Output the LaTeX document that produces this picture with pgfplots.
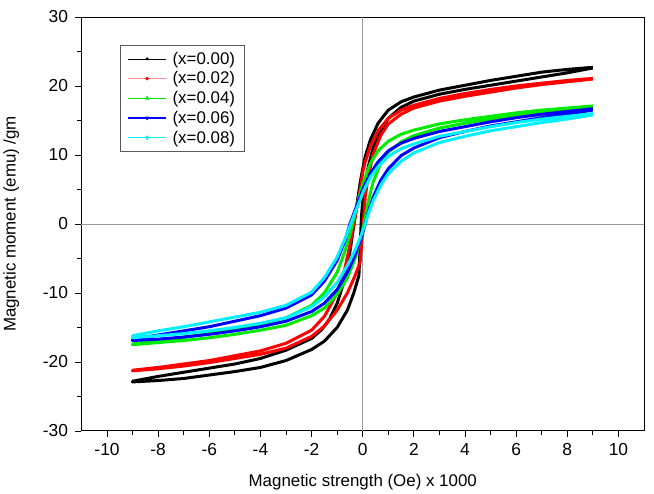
\documentclass[border=0pt]{standalone}
\usepackage{pgfplots}
\pgfplotsset{compat=1.18}
\usepackage{fontspec}
\setmainfont{Liberation Sans}
\newcommand{\lbl}{\fontsize{17}{20}\selectfont}
\newcommand{\tck}{\fontsize{17.5}{20}\selectfont}
\definecolor{cyn}{RGB}{0,240,255}
\definecolor{grn}{RGB}{0,235,0}
\definecolor{rd}{RGB}{255,0,0}
\definecolor{bl}{RGB}{0,0,255}
\begin{document}
\begin{tikzpicture}
\begin{axis}[
  scale only axis, width=564bp, height=415bp,
  xmin=-11, xmax=11, ymin=-30, ymax=30,
  xtick={-10,-8,...,10}, ytick={-30,-20,...,30},
  minor x tick num=1, minor y tick num=1,
  xtick pos=bottom, ytick pos=left, tick align=outside,
  major tick length=6bp, minor tick length=4bp,
  every tick/.style={black, line width=0.8pt},
  axis line style={line width=0.9pt},
  /pgf/number format/assume math mode=true,
  tick label style={font=\tck},
  label style={font=\lbl},
  xlabel={Magnetic strength (Oe) x 1000},
  ylabel={Magnetic moment (emu) /gm},
  xticklabel style={yshift=-3bp},
  yticklabel style={xshift=-4bp},
  xlabel style={yshift=-6bp},
  ylabel style={yshift=11bp},
  extra x ticks={0}, extra y ticks={0},
  extra tick style={grid=major, major tick length=0pt, xticklabels={}, yticklabels={},
    major grid style={gray!80, line width=0.6pt}},
  legend style={at={(rel axis cs:0.069,0.933)}, anchor=north west, font=\lbl,
    draw=gray!70!black, line width=0.7pt, row sep=2bp, inner xsep=7bp, inner ysep=5bp},
  legend cell align=left,
  legend image code/.code={\draw[mark repeat=2,mark phase=2,#1]
    plot coordinates {(0bp,0bp) (19bp,0bp) (38bp,0bp)};
    \path (0bp,0bp) (42bp,0bp);},
  every axis plot/.append style={line width=3bp, line join=round},
]
% x = 0.00
\addplot[black, forget plot] coordinates {
(9,22.7)(8,22.4)(7,22.0)(6,21.4)(5,20.8)(4,20.1)(3,19.4)(2,18.4)(1.5,17.7)(1,16.5)(0.6,14.6)(0.3,12.2)(0.1,9.8)(0,8.0)(-0.1,6.0)(-0.2,3.5)(-0.3,1.0)(-0.4,-1.5)(-0.5,-4)(-0.7,-8)(-1,-11.5)(-1.3,-13.8)(-1.6,-15.3)(-2,-16.6)(-3,-18.3)(-4,-19.5)(-5,-20.3)(-6,-20.9)(-7,-21.5)(-8,-22.1)(-9,-22.8)
(-9,-22.9)(-8,-22.7)(-7,-22.4)(-6,-21.9)(-5,-21.4)(-4,-20.8)(-3,-19.8)(-2,-18.2)(-1.5,-17.0)(-1,-15.0)(-0.6,-12.5)(-0.35,-10)(-0.15,-7.5)(-0.1,-3)(-0.05,1)(0,3.5)(0.1,6)(0.2,8)(0.4,11)(0.7,13.5)(1,15.3)(1.5,16.9)(2,17.8)(3,18.8)(4,19.5)(5,20.1)(6,20.7)(7,21.3)(8,21.9)(9,22.6)
};
% x = 0.02
\addplot[rd, forget plot] coordinates {
(9,21.1)(8,20.8)(7,20.4)(6,20.0)(5,19.5)(4,18.9)(3,18.2)(2,17.2)(1.5,16.5)(1,15.3)(0.6,13.5)(0.3,11.3)(0.1,9.0)(0,7.5)(-0.1,5)(-0.2,3)(-0.3,1)(-0.4,-1)(-0.5,-3)(-0.7,-6.5)(-1,-10)(-1.5,-13.4)(-2,-15.4)(-3,-17.3)(-4,-18.4)(-5,-19.1)(-6,-19.8)(-7,-20.3)(-8,-20.8)(-9,-21.2)
(-9,-21.3)(-8,-21.0)(-7,-20.6)(-6,-20.1)(-5,-19.5)(-4,-18.9)(-3,-18.0)(-2,-16.3)(-1.5,-14.8)(-1,-12.5)(-0.6,-10.0)(-0.3,-7.5)(-0.1,-5.5)(0,-1)(0.1,4)(0.2,6.5)(0.4,10)(0.7,12.8)(1,14.5)(1.5,15.9)(2,16.8)(3,17.8)(4,18.5)(5,19.1)(6,19.7)(7,20.2)(8,20.6)(9,21.0)
};
% x = 0.04
\addplot[grn, forget plot] coordinates {
(9,17.1)(8,16.8)(7,16.5)(6,16.1)(5,15.6)(4,15.1)(3,14.5)(2,13.6)(1.5,13.0)(1,12.0)(0.6,10.6)(0.3,8.8)(0.1,6.8)(0,5.8)(-0.1,4.5)(-0.2,3.0)(-0.3,1.5)(-0.5,-1.5)(-0.7,-4)(-1,-7.0)(-1.5,-10)(-2,-11.8)(-3,-13.6)(-4,-14.6)(-5,-15.3)(-6,-15.9)(-7,-16.4)(-8,-16.9)(-9,-17.4)
(-9,-17.5)(-8,-17.2)(-7,-16.9)(-6,-16.5)(-5,-16.0)(-4,-15.4)(-3,-14.7)(-2,-13.3)(-1.5,-12.2)(-1,-10.2)(-0.6,-7.8)(-0.3,-5.0)(-0.1,-2.5)(0,-1)(0.1,1)(0.2,3)(0.4,6)(0.7,8.8)(1,10.4)(1.5,11.9)(2,12.8)(3,13.9)(4,14.6)(5,15.2)(6,15.7)(7,16.2)(8,16.6)(9,17.0)
};
% x = 0.06
\addplot[bl, forget plot] coordinates {
(9,16.7)(8,16.3)(7,15.9)(6,15.4)(5,14.8)(4,14.1)(3,13.4)(2,12.4)(1.5,11.7)(1,10.6)(0.6,9.0)(0.3,7.3)(0.1,5.8)(0,5.0)(-0.1,4)(-0.2,3)(-0.3,2)(-0.5,0)(-0.7,-2.5)(-1,-5.3)(-1.5,-8.3)(-2,-10.3)(-3,-12.2)(-4,-13.3)(-5,-14.1)(-6,-14.9)(-7,-15.5)(-8,-16.1)(-9,-16.7)
(-9,-16.9)(-8,-16.7)(-7,-16.4)(-6,-16.0)(-5,-15.5)(-4,-14.9)(-3,-14.1)(-2,-12.7)(-1.5,-11.5)(-1,-9.5)(-0.6,-7)(-0.3,-4.5)(-0.1,-2.5)(0,-1.3)(0.1,0)(0.2,1.5)(0.4,3.8)(0.7,6.3)(1,8.0)(1.5,9.9)(2,11.0)(3,12.5)(4,13.4)(5,14.2)(6,14.8)(7,15.4)(8,15.9)(9,16.5)
};
% x = 0.08
\addplot[cyn, forget plot] coordinates {
(9,16.0)(8,15.6)(7,15.2)(6,14.7)(5,14.1)(4,13.4)(3,12.7)(2,11.6)(1.5,10.9)(1,9.8)(0.6,8.3)(0.3,6.8)(0.1,5.3)(0,4.5)(-0.1,3.5)(-0.2,2.6)(-0.3,1.7)(-0.5,-0.3)(-0.7,-2.2)(-1,-4.8)(-1.5,-7.8)(-2,-9.9)(-3,-11.8)(-4,-12.8)(-5,-13.5)(-6,-14.2)(-7,-14.9)(-8,-15.5)(-9,-16.2)
(-9,-16.5)(-8,-16.2)(-7,-15.9)(-6,-15.5)(-5,-15.0)(-4,-14.4)(-3,-13.6)(-2,-12.0)(-1.5,-10.6)(-1,-8.5)(-0.6,-6.0)(-0.3,-3.8)(-0.1,-2)(0,-1)(0.1,0)(0.2,1.3)(0.4,3.3)(0.7,5.6)(1,7.3)(1.5,9.1)(2,10.3)(3,11.8)(4,12.7)(5,13.5)(6,14.1)(7,14.7)(8,15.2)(9,15.8)
};
% legend entries: thin line with small symbol
\addlegendimage{black, line width=0.6pt, mark=*, mark size=1.3pt}
\addlegendentry{(x=0.00)}
\addlegendimage{rd!45, line width=1.1pt, mark=*, mark size=1.3pt, mark options={rd}}
\addlegendentry{(x=0.02)}
\addlegendimage{grn, line width=1.1pt, mark=triangle*, mark size=1.7pt}
\addlegendentry{(x=0.04)}
\addlegendimage{bl, line width=1.1pt, mark=triangle*, mark size=1.7pt, mark options={rotate=180}}
\addlegendentry{(x=0.06)}
\addlegendimage{cyn, line width=1.1pt, mark=diamond*, mark size=1.7pt}
\addlegendentry{(x=0.08)}
\end{axis}
\path ([yshift=17bp]current axis.north) ([xshift=10bp]current axis.east)
      ([yshift=-60bp]current axis.south);
\end{tikzpicture}
\end{document}
